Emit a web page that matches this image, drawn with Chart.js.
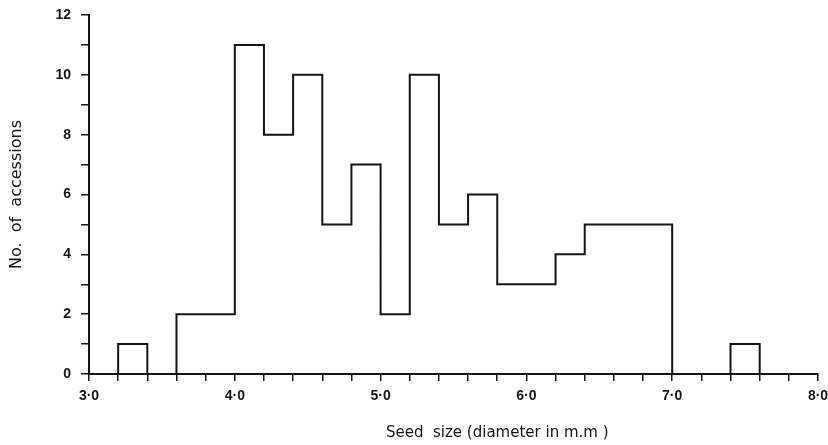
<!DOCTYPE html>
<html>
<head>
<meta charset="utf-8">
<title>Seed size distribution</title>
<script src="https://cdn.jsdelivr.net/npm/chart.js@4/dist/chart.umd.min.js"></script>
<style>
  html, body { margin: 0; padding: 0; background: #fff; }
  #wrap { width: 828px; height: 445px; position: relative; }
</style>
</head>
<body>
<div id="wrap"><canvas id="seedChart"></canvas></div>
<script>
// --- data: class starts (mm), class width 0.2, and accessions per class ---
const binStarts = [3.0, 3.2, 3.4, 3.6, 3.8, 4.0, 4.2, 4.4, 4.6, 4.8, 5.0, 5.2, 5.4,
                   5.6, 5.8, 6.0, 6.2, 6.4, 6.6, 6.8, 7.0, 7.2, 7.4, 7.6, 7.8];
const binEnd = 8.0;
const counts = [0, 1, 0, 2, 2, 11, 8, 10, 5, 7, 2, 10, 5,
                6, 3, 3, 4, 5, 5, 5, 0, 0, 1, 0, 0];
const xTickLabels = ["3·0", "4·0", "5·0", "6·0", "7·0", "8·0"];
const yTickLabels = ["0", "2", "4", "6", "8", "10", "12"];

const INK = "#151515";
const TICK_FONT = { family: "'Liberation Sans', Arial, sans-serif", size: 14, weight: "bold" };

// outline of the histogram: one point per class start holding that class's count,
// stepped 'before' keeps the level until the next class edge
const outline = binStarts.map((x, i) => ({ x: x, y: counts[i] }));
outline.push({ x: binEnd, y: 0 });

// x-axis caption sits right of centre, so draw it by hand
const xCaption = {
  id: "xCaption",
  afterDraw(chart) {
    const ctx = chart.ctx;
    const xs = chart.scales.x;
    ctx.save();
    ctx.fillStyle = INK;
    ctx.font = "15px 'DejaVu Sans', sans-serif";
    ctx.textAlign = "center";
    ctx.textBaseline = "middle";
    ctx.fillText("Seed  size (diameter in m.m )", xs.getPixelForValue(5.8), 433);
    ctx.restore();
  }
};

new Chart(document.getElementById("seedChart"), {
  type: "line",
  data: {
    datasets: [{
      data: outline,
      stepped: "before",
      borderColor: INK,
      borderWidth: 2,
      pointRadius: 0,
      fill: false,
      clip: false
    }]
  },
  options: {
    responsive: true,
    maintainAspectRatio: false,
    animation: false,
    layout: { padding: { top: 15, right: 10, left: 0, bottom: 0 } },
    plugins: {
      legend: { display: false },
      tooltip: { enabled: false }
    },
    scales: {
      x: {
        type: "linear",
        min: 3.0,
        max: 8.0,
        border: { display: true, color: INK, width: 2 },
        grid: { drawOnChartArea: false, drawTicks: true, tickLength: 7, color: INK, lineWidth: 1.5 },
        ticks: {
          stepSize: 0.2,
          autoSkip: false,
          maxRotation: 0,
          padding: 7,
          color: INK,
          font: TICK_FONT,
          callback: (v) => {
            const t = Math.round(v * 10);
            return t % 10 === 0 ? xTickLabels[t / 10 - 3] : "";
          }
        },
        afterFit(scale) {
          scale.height = 71;
          scale.paddingLeft = 0;
          scale.paddingRight = 0;
        }
      },
      y: {
        min: 0,
        max: 12,
        border: { display: true, color: INK, width: 2 },
        grid: { drawOnChartArea: false, drawTicks: true, tickLength: 8, color: INK, lineWidth: 1.5 },
        ticks: {
          stepSize: 1,
          autoSkip: false,
          padding: 10,
          color: INK,
          font: TICK_FONT,
          callback: (v) => (v % 2 === 0 ? yTickLabels[v / 2] : "")
        },
        title: {
          display: true,
          text: "No.  of  accessions",
          color: INK,
          padding: { top: 7, bottom: 0 },
          font: { family: "'DejaVu Sans', sans-serif", size: 16 }
        },
        afterFit(scale) {
          scale.width = 89;
          scale.paddingTop = 0;
          scale.paddingBottom = 0;
        }
      }
    }
  },
  plugins: [xCaption]
});
</script>
</body>
</html>
